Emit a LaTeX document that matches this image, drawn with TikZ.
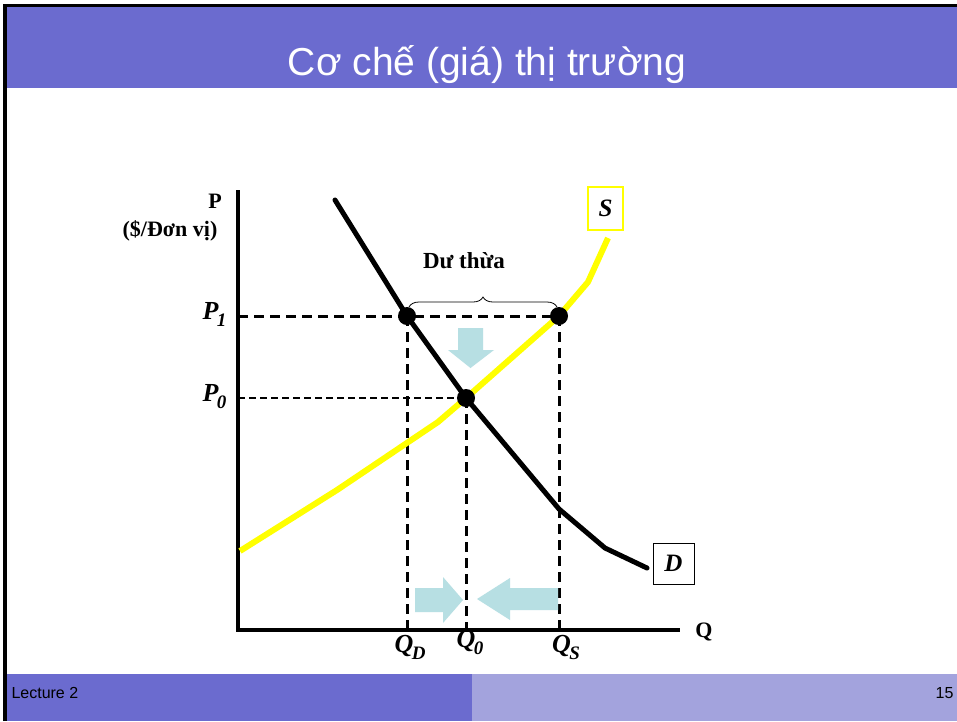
\documentclass[tikz,border=0pt]{standalone}
\usepackage{fontspec}
\setmainfont{Liberation Serif}
\newfontfamily\slidefont{Liberation Sans}
\usetikzlibrary{decorations.pathreplacing}
\definecolor{barblue}{RGB}{107,107,207}
\definecolor{barlight}{RGB}{163,163,221}
\definecolor{shiftblue}{RGB}{183,223,227}
\definecolor{supplyyellow}{RGB}{255,255,0}
\newcommand{\sublabel}[2]{{\bfseries\itshape #1\kern-1.5pt\raisebox{-0.3em}{\fontsize{19}{19}\selectfont #2}}}
\tikzset{
  guide/.style={line width=3pt, dash pattern=on 10pt off 6pt},
  thinguide/.style={line width=2pt, dash pattern=on 7pt off 4pt},
  shiftarrow/.style={fill=shiftblue},
  pricelabel/.style={font=\fontsize{26}{28}\selectfont},
  axislabel/.style={font=\fontsize{22}{24}\selectfont\bfseries}
}
\begin{document}
\begin{tikzpicture}[x=1pt,y=-1pt]
\useasboundingbox (0,0) rectangle (957,721);
% slide background, bars and frame
\fill[white] (0,0) rectangle (957,721);
\fill[barblue]  (5,7)    rectangle (957,88);
\fill[barblue]  (5,674)  rectangle (472,721);
\fill[barlight] (472,674) rectangle (957,721);
\draw[line width=3.5pt] (5,721) -- (5,5.5) -- (957,5.5);
\node[anchor=base, text=white, font=\slidefont\fontsize{39}{44}\selectfont] (title) at (487,75) {Cơ chế (giá) thị trường};
\node[anchor=base west, font=\slidefont\fontsize{16}{18}\selectfont] (lecture) at (8,698) {Lecture 2};
\node[anchor=base east, font=\slidefont\fontsize{16}{18}\selectfont] (page) at (957,698) {15};
% key points
\coordinate (O)  at (238,630);
\coordinate (E0) at (466,398);
\coordinate (Dp) at (407,316);
\coordinate (Sp) at (559,316);
% x and y axes
\draw[line width=3.5pt] (238,190) -- (O) -- (680,630);
\node[axislabel] (qaxis) at (704,632) {Q};
\node[axislabel, anchor=base] (paxis) at (215,208) {P};
\node[axislabel, anchor=base] (punit) at (170,236) {(\$/Đơn vị)};
% price and quantity guides
\draw[guide]     (O |- Sp) -- (Sp);
\draw[thinguide] (O |- E0) -- (E0);
\draw[guide]     (Dp) -- (Dp |- O);
\draw[guide]     (E0) -- (E0 |- O);
\draw[guide]     (Sp) -- (Sp |- O);
% supply and demand
\draw[supplyyellow, line width=6pt, line join=round]
  (240,551) -- (337,490) -- (438,422) -- (E0) -- (Sp) -- (588,282) -- (608,238);
\draw[line width=5pt, line join=round, line cap=round]
  (335,200) -- (Dp) -- (E0) -- (559,509) -- (605,548) -- (647,568);
\fill (Dp) circle (9);
\fill (E0) circle (9);
\fill (Sp) circle (9);
\node[draw=supplyyellow, line width=1.5pt, minimum width=35, minimum height=43, inner sep=0pt,
  font=\fontsize{25}{27}\selectfont\bfseries\itshape] (slabel) at (605.5,208.5) {S};
\node[draw, line width=1pt, minimum width=41, minimum height=41, inner sep=0pt,
  font=\fontsize{25}{27}\selectfont\bfseries\itshape] (dlabel) at (673.5,563.5) {D};
% surplus
\draw[decorate, decoration={brace, amplitude=10pt}, line width=0.8pt] (409,307) -- (557,307);
\node[font=\fontsize{23}{25}\selectfont\bfseries] (surplus) at (464,261) {Dư thừa};
% price and quantity adjustment
\fill[shiftarrow] (458,328) -- (483,328) -- (483,350) -- (494,350) -- (470.5,368) -- (448,350) -- (458,350) -- cycle;
\fill[shiftarrow] (415,588) -- (443,588) -- (443,577) -- (463,600) -- (443,623) -- (443,612) -- (415,612) -- cycle;
\fill[shiftarrow] (558,588) -- (510,588) -- (510,578) -- (477,599) -- (510,620) -- (510,610) -- (558,610) -- cycle;
% tick labels
\node[pricelabel, anchor=base east] (p1) at (230,319) {\sublabel{P}{1}};
\node[pricelabel, anchor=base east] (p0) at (230,401) {\sublabel{P}{0}};
\node[pricelabel, anchor=base] (qd) at (410,652) {\sublabel{Q}{D}};
\node[pricelabel, anchor=base] (q0) at (470,647) {\sublabel{Q}{0}};
\node[pricelabel, anchor=base] (qs) at (566,652) {\sublabel{Q}{S}};
\end{tikzpicture}
\end{document}
